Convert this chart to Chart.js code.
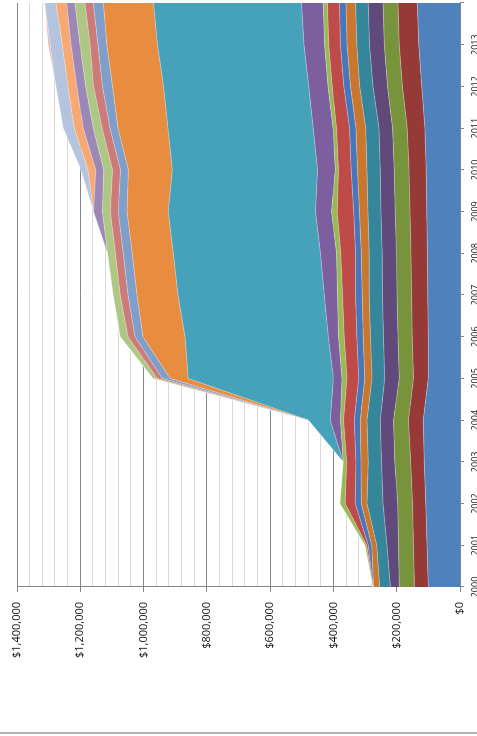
<!DOCTYPE html>
<html>
<head>
<meta charset="utf-8">
<title>Stacked area</title>
<script src="https://cdn.jsdelivr.net/npm/chart.js@4/dist/chart.umd.min.js"></script>
<style>
  html, body { margin: 0; padding: 0; background: #fff; width: 477px; height: 736px; overflow: hidden; }
  /* chart is drawn landscape, then turned a quarter turn counter-clockwise */
  #frame {
    position: absolute; left: 0; top: 0; width: 760px; height: 500px;
    transform-origin: 0 0;
    transform: translate(0, 736px) rotate(-90deg);
  }
</style>
</head>
<body>
<div id="frame"><canvas id="chart" width="760" height="500"></canvas></div>
<script>
// categories
const years = ['2000', '2001', '2002', '2003', '2004', '2005', '2006', '2007',
  '2008', '2009', '2010', '2011', '2012', '2013', '2014'];

// series values, in thousands of dollars, bottom of the stack first
const s01 = [100, 104, 108, 113, 116, 100, 100, 102, 103, 105, 107, 111, 121, 130, 135];
const s02 = [44, 43, 42, 43, 47, 47, 51, 51, 52, 53, 54, 56, 61, 62, 61];
const s03 = [48, 47, 47, 50, 47, 45, 45, 46, 46, 47, 47, 46, 47, 47, 47];
const s04 = [28, 37, 46, 42, 42, 46, 46, 46, 45, 45, 44, 43, 46, 47, 47];
const s05 = [34, 32, 51, 42, 42, 40, 41, 42, 41, 41, 42, 42, 42, 40, 40];
const s06 = [19, 16, 18, 23, 21, 23, 23, 22, 25, 27, 30, 31, 29, 31, 30];
const s07 = [1, 11, 19, 16, 19, 19, 20, 21, 18, 18, 20, 20, 21, 21, 21];
const s08 = [1, 5, 32, 29, 34, 37, 40, 41, 47, 52, 40, 41, 37, 37, 38];
const s09 = [0, 5, 16, 11, 10, 16, 18, 16, 13, 18, 10, 11, 13, 13, 13];
const s10 = [0, 0, 0, 0, 32, 27, 32, 42, 51, 51, 56, 63, 61, 65, 69];
const s11 = [0, 0, 0, 0, 69, 459, 453, 462, 465, 465, 459, 459, 459, 463, 468];
const s12 = [0, 0, 0, 0, 0, 57, 133, 130, 130, 130, 139, 158, 161, 160, 158];
const s13 = [0, 0, 0, 0, 0, 25, 25, 28, 28, 28, 25, 25, 32, 28, 32];
const s14 = [0, 0, 0, 0, 0, 16, 22, 25, 25, 25, 25, 25, 28, 25, 26];
const s15 = [0, 0, 0, 0, 0, 13, 25, 22, 25, 25, 28, 28, 25, 32, 32];
const s16 = [0, 0, 0, 0, 0, 0, 0, 0, 0, 28, 25, 32, 28, 28, 26];
const s17 = [0, 0, 0, 0, 0, 0, 0, 0, 0, 0, 25, 28, 28, 28, 34];
const s18 = [0, 0, 0, 0, 0, 0, 0, 0, 0, 0, 22, 35, 38, 38, 35];
const s19 = [0, 0, 0, 0, 0, 0, 0, 0, 0, 0, 0, 0, 0, 6, 0];

// value axis
const axisMax = 1400000;
const minorStep = 40000;
const majorStep = 200000;

const seriesList = [s01, s02, s03, s04, s05, s06, s07, s08, s09, s10,
  s11, s12, s13, s14, s15, s16, s17, s18, s19];
const seriesColors = ['#4F81BD', '#963A38', '#77933C', '#604A7B', '#35869B',
  '#C9772F', '#4876B8', '#BE4B48', '#98B954', '#7D5FA0', '#46A2BB', '#E88C3F',
  '#809ECA', '#CD7B79', '#AFC784', '#9C88B6', '#F8A872', '#B4C4DF', '#E0B2B0'];

const axisGray = '#868686';
const minorGray = '#D9D9D9';

function isMajor(value) {
  return value % majorStep === 0;
}

function money(value) {
  return '$' + Number(value).toLocaleString('en-US');
}

// edge of the original chart box
const chartFrame = {
  id: 'chartFrame',
  beforeDraw(chart) {
    const ctx = chart.ctx;
    ctx.save();
    ctx.strokeStyle = '#B3B3B3';
    ctx.lineWidth = 2;
    ctx.beginPath();
    ctx.moveTo(3, 0);
    ctx.lineTo(3, chart.height);
    ctx.stroke();
    ctx.restore();
  }
};

const datasets = seriesList.map(function (values, i) {
  return {
    label: 'Series ' + (i + 1),
    data: values.map(function (v) { return v * 1000; }),
    backgroundColor: seriesColors[i],
    borderColor: 'rgba(255,255,255,0.3)',
    borderWidth: 1,
    pointRadius: 0,
    tension: 0,
    fill: i === 0 ? 'origin' : '-1'
  };
});

new Chart(document.getElementById('chart'), {
  type: 'line',
  data: { labels: years, datasets: datasets },
  plugins: [chartFrame],
  options: {
    responsive: false,
    animation: false,
    layout: { padding: { top: 17, right: 27, left: 0, bottom: 0 } },
    plugins: {
      legend: { display: false },
      tooltip: { enabled: false }
    },
    scales: {
      x: {
        offset: false,
        grid: {
          drawOnChartArea: false,
          drawTicks: true,
          tickLength: 4,
          color: axisGray
        },
        border: { display: true, color: axisGray, width: 1 },
        ticks: {
          autoSkip: false,
          maxRotation: 0,
          minRotation: 0,
          padding: 6,
          color: '#111',
          font: { family: 'Open Sans', size: 9 },
          callback: function (v, i) {
            return i === years.length - 1 ? '' : years[i];
          }
        },
        afterFit: function (scale) { scale.height = 40; }
      },
      y: {
        stacked: true,
        min: 0,
        max: axisMax,
        grid: {
          drawTicks: true,
          tickLength: 5,
          color: function (c) { return c.tick && isMajor(c.tick.value) ? axisGray : minorGray; },
          tickColor: function (c) { return c.tick && isMajor(c.tick.value) ? axisGray : 'rgba(0,0,0,0)'; }
        },
        border: { display: true, color: axisGray, width: 1 },
        ticks: {
          stepSize: minorStep,
          maxTicksLimit: 100,
          autoSkip: false,
          padding: 10,
          color: '#111',
          font: { family: 'Open Sans', size: 11 },
          callback: function (v) { return isMajor(v) ? money(v) : ''; }
        },
        afterFit: function (scale) { scale.width = 149; }
      }
    }
  }
});
</script>
</body>
</html>
